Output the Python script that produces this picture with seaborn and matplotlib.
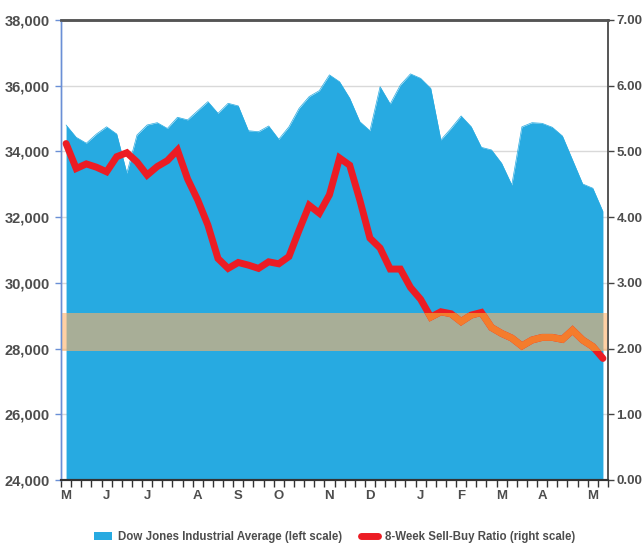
import numpy as np
import pandas as pd
import matplotlib
matplotlib.use("Agg")
import matplotlib.pyplot as plt
from matplotlib.patches import Patch
from matplotlib.lines import Line2D
import seaborn as sns

# Weekly closes of the Dow Jones Industrial Average (left scale)
djia = [34805, 34430, 34250, 34530, 34750, 34530, 33340, 34500, 34805, 34875,
        34700, 35040, 34960, 35240, 35515, 35160, 35465, 35385, 34630, 34600,
        34775, 34370, 34750, 35310, 35670, 35850, 36330, 36120, 35620, 34905,
        34630, 35970, 35445, 36020, 36360, 36225, 35920, 34350, 34700, 35080,
        34750, 34125, 34045, 33640, 32980, 34750, 34875, 34855, 34735, 34470,
        33740, 33010, 32880, 32170]

# 8-week sell/buy ratio (right scale)
ratio = [5.12, 4.74, 4.81, 4.76, 4.69, 4.92, 4.98, 4.84, 4.64, 4.77,
         4.86, 5.02, 4.58, 4.26, 3.88, 3.37, 3.22, 3.31, 3.27, 3.22,
         3.32, 3.29, 3.40, 3.80, 4.18, 4.06, 4.34, 4.90, 4.79, 4.26,
         3.68, 3.53, 3.21, 3.21, 2.93, 2.75, 2.48, 2.56, 2.53, 2.41,
         2.51, 2.55, 2.32, 2.23, 2.16, 2.04, 2.13, 2.17, 2.17, 2.14,
         2.28, 2.13, 2.03, 1.85]

# Month initials and the week on which each is labelled
month_labels = ["M", "J", "J", "A", "S", "O", "N", "D", "J", "F", "M", "A", "M"]
month_weeks = [0, 4, 8, 13, 17, 21, 26, 30, 35, 39, 43, 47, 52]

# Neutral zone of the ratio
zone_low, zone_high = 1.96, 2.54

left_ticks = [24000, 26000, 28000, 30000, 32000, 34000, 36000, 38000]
right_ticks = [0, 1, 2, 3, 4, 5, 6, 7]

legend_labels = ["Dow Jones Industrial Average (left scale)",
                 "8-Week Sell-Buy Ratio (right scale)"]

BLUE = "#27AAE1"
RED = "#EC1C24"
ORANGE = "#F47C2C"
ZONE = "#FFB167"
TEXT = "#4D4D4D"

sns.set_theme(style="white")
plt.rcParams["font.family"] = ["Liberation Sans Narrow", "Liberation Sans", "DejaVu Sans"]
plt.rcParams["font.weight"] = "bold"

df = pd.DataFrame({"week": np.arange(len(djia)), "djia": djia, "ratio": ratio})

fig = plt.figure(figsize=(6.44, 5.46), dpi=100)
ax = fig.add_axes([61 / 644, 1 - 480 / 546, 547 / 644, 460 / 546])

# DJIA as a filled area
sns.lineplot(data=df, x="week", y="djia", ax=ax, color=BLUE, linewidth=0.5, zorder=2)
ax.fill_between(df["week"], 24000, df["djia"], color=BLUE, linewidth=0, zorder=2)
ax.set_ylim(24000, 38000)
ax.set_xlim(-0.5, len(djia) - 0.5)
ax.set_yticks(left_ticks)
ax.set_yticklabels([f"{v:,}" for v in left_ticks])
ax.yaxis.grid(True, color="#D9D9D9", linewidth=1.0, zorder=0)
ax.set_axisbelow(True)
ax.set_xlabel("")
ax.set_ylabel("")

# Sell/buy ratio on the right-hand scale, shaded neutral zone across it
ax2 = ax.twinx()
band = ax2.axhspan(zone_low, zone_high, color=ZONE, alpha=0.6, linewidth=0, zorder=1)
sns.lineplot(data=df, x="week", y="ratio", ax=ax2, color=RED, linewidth=5,
             solid_joinstyle="miter", zorder=2)
# inside the zone the ratio line turns orange
zone_line, = ax2.plot(df["week"], df["ratio"], color=ORANGE, linewidth=5,
                      solid_joinstyle="miter", zorder=3)
zone_line.set_clip_path(band)
ax2.set_ylim(0, 7)
ax2.set_yticks(right_ticks)
ax2.set_yticklabels([f"{v:.2f}" for v in right_ticks])
ax2.set_ylabel("")
ax2.set_xlim(-0.5, len(djia) - 0.5)

# Month labels under the weeks, weekly tick marks between them
ax.set_xticks(month_weeks)
ax.set_xticklabels(month_labels)
ax.set_xticks(np.arange(-0.5, len(djia), 1.0), minor=True)
ax.tick_params(axis="x", which="major", length=0, pad=7, labelsize=9.5,
               labelcolor=TEXT)
ax.tick_params(axis="x", which="minor", bottom=True, length=5, width=1,
               color="#333333")
ax.tick_params(axis="y", left=True, length=4, width=1, color="#6A8FD6",
               labelsize=10.5, labelcolor=TEXT, pad=4)
ax2.tick_params(axis="y", right=True, length=4, width=1, color="#444444",
                labelsize=9.5, labelcolor=TEXT, pad=2)

for a in (ax, ax2):
    a.spines["top"].set_color("#555555")
    a.spines["top"].set_linewidth(1.8)
    a.spines["bottom"].set_color("#333333")
    a.spines["bottom"].set_linewidth(1.5)
    a.spines["left"].set_color("#6A8FD6")
    a.spines["left"].set_linewidth(1.0)
    a.spines["right"].set_color("#555555")
    a.spines["right"].set_linewidth(1.2)
for lbl in ax.get_xticklabels() + ax.get_yticklabels() + ax2.get_yticklabels():
    lbl.set_fontweight("bold")

handles = [Patch(facecolor=BLUE, edgecolor="none"),
           Line2D([0], [0], color=RED, linewidth=5, solid_capstyle="round")]
leg = fig.legend(handles, legend_labels, loc="center", ncol=2,
                 bbox_to_anchor=(0.52, 0.016), frameon=False,
                 borderpad=0.1,
                 prop={"size": 8.3, "weight": "bold"},
                 handlelength=1.5, handleheight=0.7, handletextpad=0.6,
                 columnspacing=1.6)
for t in leg.get_texts():
    t.set_color(TEXT)

fig.savefig("out.png", dpi=100)
